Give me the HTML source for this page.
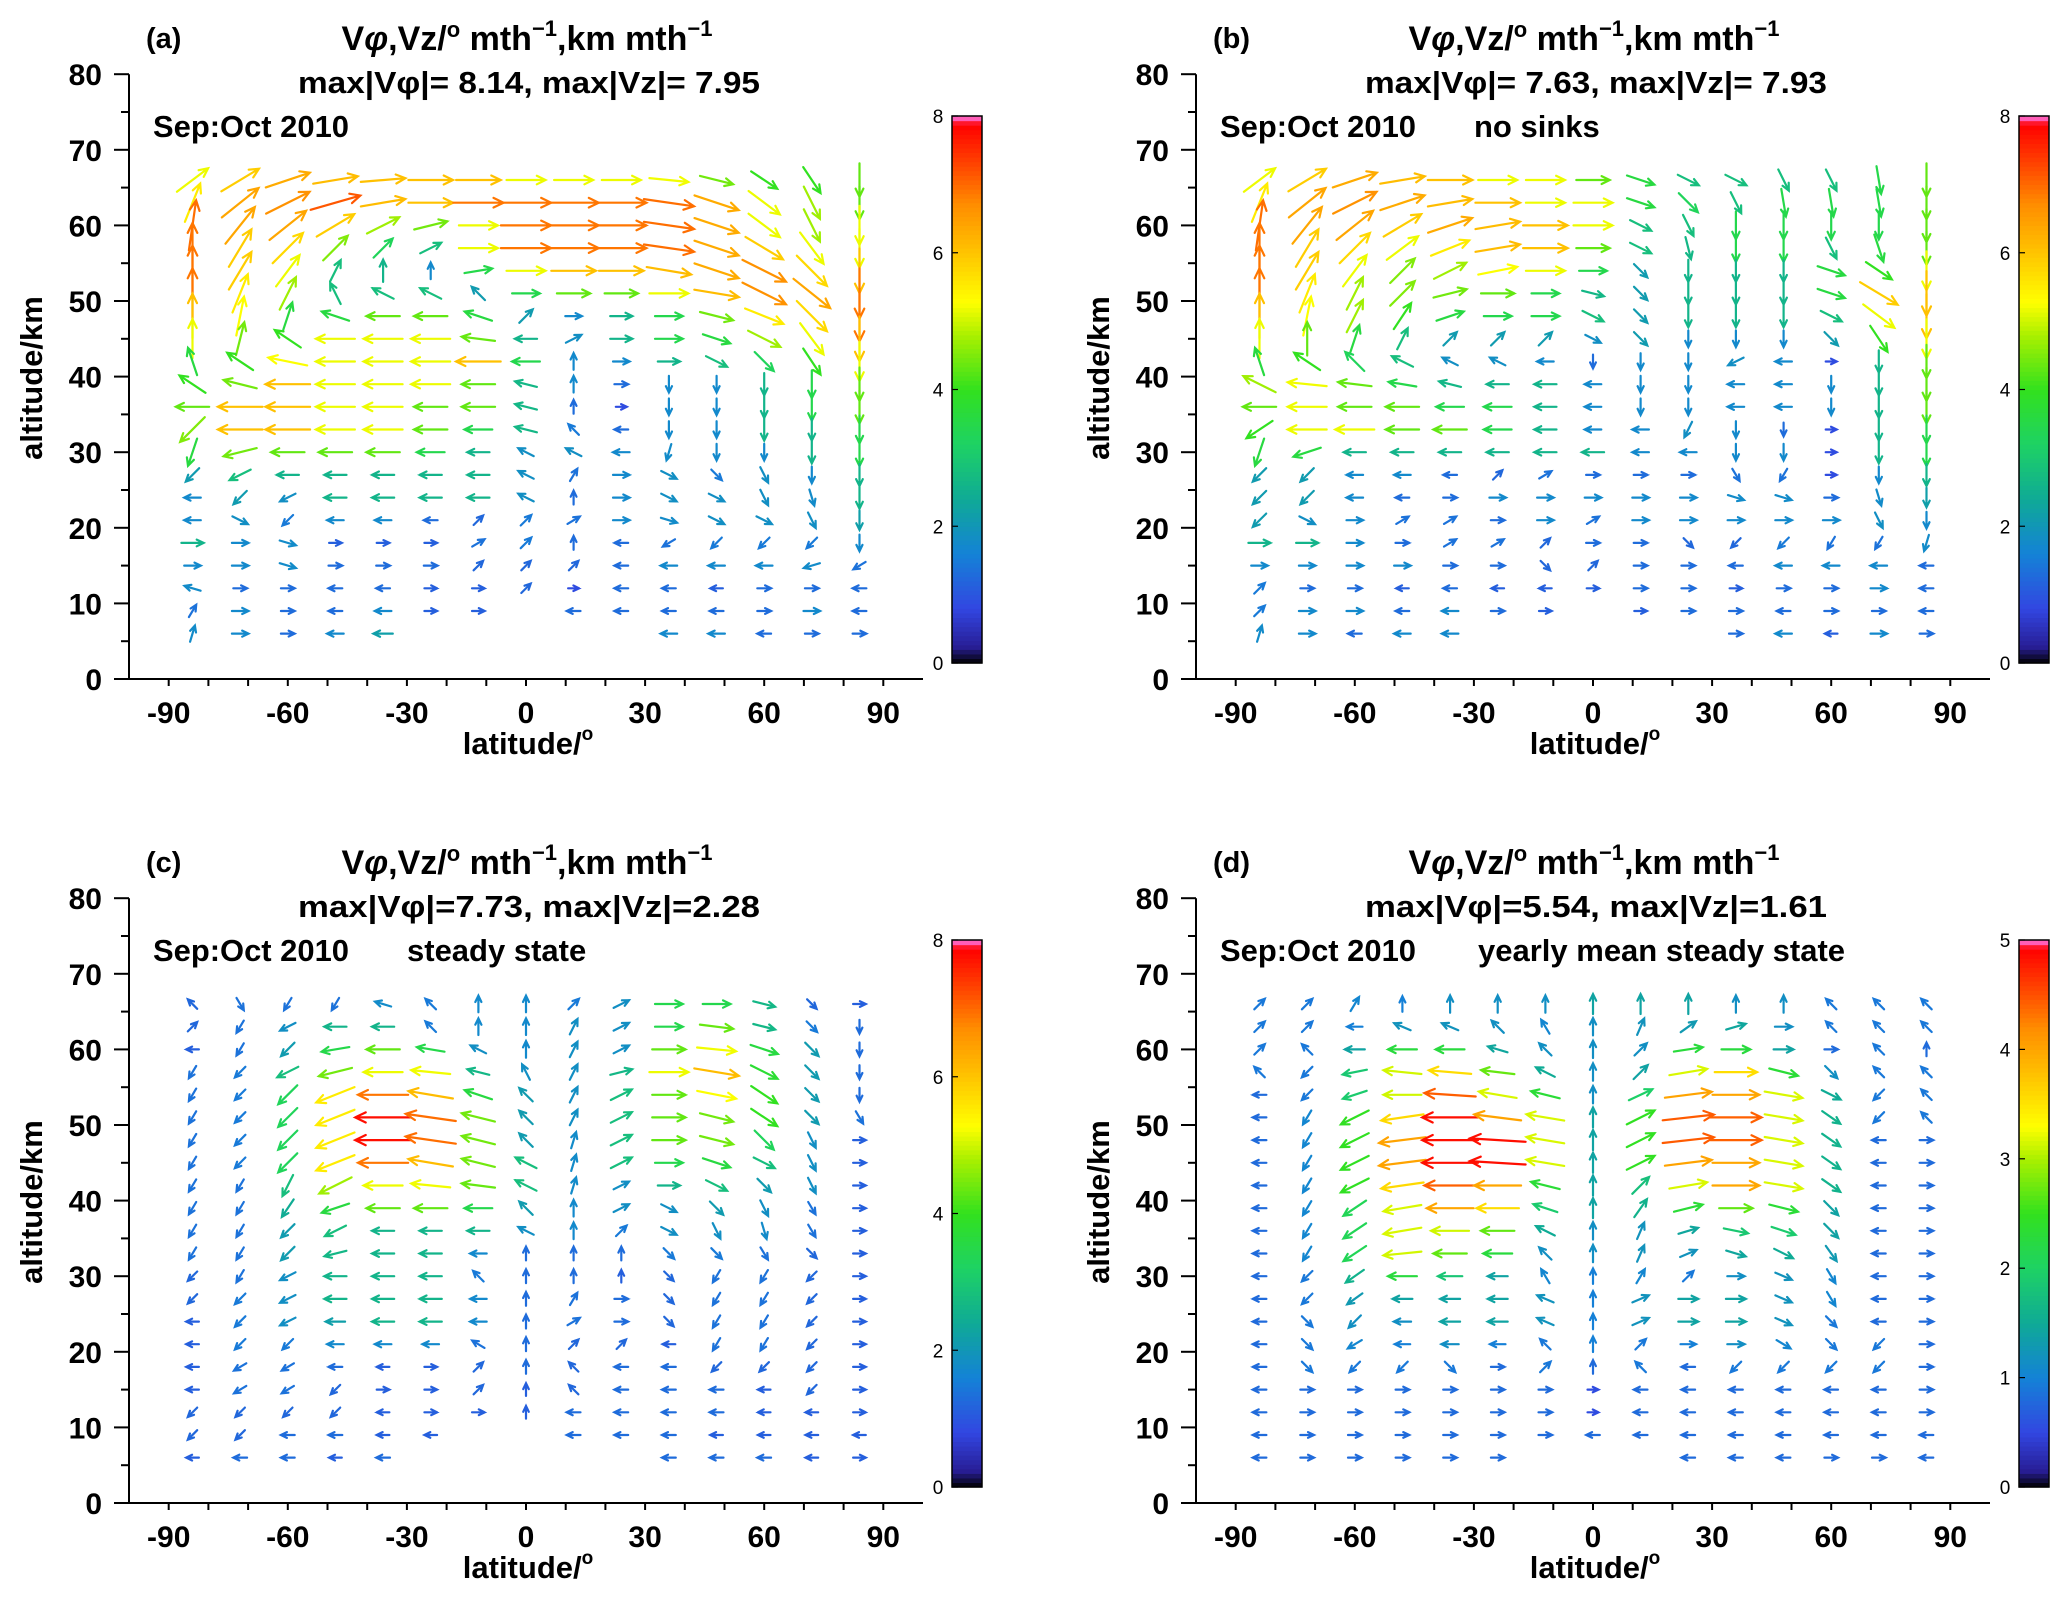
<!DOCTYPE html>
<html><head><meta charset="utf-8"><style>
html,body{margin:0;padding:0;background:#fff;}
svg{display:block;font-family:"Liberation Sans",sans-serif;}
</style></head><body>
<svg id="fig" width="2067" height="1601" viewBox="0 0 2067 1601"></svg>
<script>
// ---- data ----
const latCols = [-84,-72,-60,-48,-36,-24,-12,0,12,24,36,48,60,72,84];
const altRows = [66,63,60,57,54,51,48,45,42,39,36,33,30,27,24,21,18,15,12,9,6];
const yTicks = [0,10,20,30,40,50,60,70,80];
const xTicks = [-90,-60,-30,0,30,60,90];
const panelLabels = ["(a)","(b)","(c)","(d)"];
const maxLines = ["max|V\u03c6|= 8.14, max|Vz|= 7.95","max|V\u03c6|= 7.63, max|Vz|= 7.93","max|V\u03c6|=7.73, max|Vz|=2.28","max|V\u03c6|=5.54, max|Vz|=1.61"];
const subTitles = ["","no sinks","steady state","yearly mean steady state"];
const cbarMax = [8,8,8,5];
const N=null;
const aU=[[4,5,6,6,6,6,6,5,5,5,5,4,3,2,0],[2,5,6,7,6,6,7,7,7,7,7,6,4,2,0],[1,4,5,5,4,4,5,7,7,7,7,6,4,2,0],[0,3,4,3,2,2,5,7,7,7,7,6,5,3,0],[0,3,3,1,0,0,3,5,6,6,6,6,6,4,0],[0,2,2,-1,-2,-2,-1,3,4,4,5,6,6,5,0],[0,1,1,-3,-4,-4,-3,1,1,2,3,4,5,4,0],[0,1,-3,-5,-5,-5,-4,-2,1,2,3,3,4,3,0],[-1,-3,-5,-5,-5,-5,-6,-3,0,1,2,2,2,2,0],[-3,-4,-6,-5,-5,-5,-4,-2,0,0.5,0,0,0,0,0],[-4,-6,-6,-5,-5,-4,-4,-2,0,0,0,0,0,0,0],[-3,-6,-6,-5,-5,-4,-3,-2,-0.5,-0.5,0,0,0,0,0],[-1,-4,-4,-4,-4,-3,-2,-1,-1,-1,-0.3,0,0,0,0],[-1,-2,-2,-2,-2,-2,-2,-1,0.3,1,1,0.5,0.5,0,0],[-1,-1,-1,-2,-2,-2,-2,-1,0,1,1,1,0.5,0.3,0],[-1,1,-0.5,-1,-1,-0.5,0.3,0.5,0.5,1,1,1,1,0.5,0],[2,1,1,0.3,0.3,0.3,0.5,0.5,0,-0.5,-0.5,-0.5,-0.5,-0.5,0],[1,1,1,0.5,0.5,0.5,0.3,0.3,0.3,-0.5,-1,-1,-1,-1,-0.5],[-1,0.5,0.5,-0.5,-0.5,0.3,0.3,0.3,0,-0.5,-0.5,-0.3,0.5,0.5,-0.5],[0.3,1,0.5,-0.5,-1,0.3,0.3,N,-0.5,-0.5,-0.5,-0.5,0.5,1,-0.5],[0.3,1,0.5,-1,-1.5,N,N,N,N,N,-1,-1,-0.5,0.5,0.5]];
const aW=[[3,3,2,1,0.5,0,0,0,0,0,-0.5,-1,-2,-3,-4],[5,4,3,2,1,0,0,0,0,0,-1,-2,-3,-4,-4],[7,5,4,3,2,1,0,0,0,0,-1,-2,-3,-4,-5],[7,5,4,3,2,1,0,0,0,0,-1,-2,-3,-4,-5],[7,5,4,2,2,1,0.5,0,0,0,-1,-2,-3,-4,-6],[7,5,4,2,1,1,1,0,0,0,0,-1,-3,-4,-7],[6,5,3,1,0,0,1,1,0,0,0,-1,-2,-4,-7],[5,4,2,0,0,0,0.5,0,0.5,0,0,-1,-2,-4,-6],[3,2,1,0,0,0,0,0,1,0,0,-1,-2,-3,-5],[2,1,0,0,0,0,0,0.5,1,0,-1,-1,-2,-3,-4],[0,0,0,0,0,0,0,0.5,0.5,0,-1,-1,-2,-3,-4],[-3,0,0,0,0,0,0,0.5,0.5,0,-1,-1,-2,-2,-3],[-3,-1,0,0,0,0,0,0.5,0.5,0,-1,-1,-1,-2,-3],[-1,-1,0,0,0,0,0,0.5,0.5,0,-0.5,-0.5,-1,-1,-2],[0,-1,-0.5,0,0,0,0,0.5,0.5,0,-0.5,-0.5,-1,-1,-2],[0,-0.5,-0.5,0,0,0,0.3,0.5,0.3,0,-0.3,-0.5,-0.5,-1,-1.5],[0,0,-0.3,0,0,0,0.3,0.5,0.5,0,-0.3,-0.5,-0.5,-0.5,-1],[0,0,-0.3,0,0,0,0.3,0.3,0.3,0,0,0,0,-0.3,-0.3],[0.3,0,0,0,0,0,0,0.3,0,0,0,0,0,0,0],[0.5,0,0,0,0,0,0,0,0,0,0,0,0,0,0],[1,0,0,0,0,0,0,0,0,0,0,0,0,0,0]];
const bU=[[4,5,6,6,6,5,5,4,3,2,2,1,1,0.5,0],[2,5,6,6,6,6,5,5,3,2,1,0.5,0.5,0.5,0],[1,4,5,5,6,6,6,5,2,1,0,0,0,0,0],[0,3,4,4,5,6,6,4,2,0.5,0,0,1,1,0],[0,3,3,3,4,5,5,3,1,0,0,0,3,3,0],[0,2,2,3,4,4,3,2,1,0,0,0,3,5,0],[0,1,2,2,3,3,3,2,1,0,0,0,2,4,0],[0,0,1,1,1,1,1,1,1,0,0,0,1,2,0],[-1,-3,-2,-2,-1,-1,-1,0,0,0,-1,-1,0,0,0],[-4,-5,-4,-3,-2,-2,-2,-1,0,0,-1,-1,0,0,0],[-4,-5,-4,-4,-3,-3,-2,-1,0,0,-1,-1,0,0,0],[-3,-5,-5,-4,-4,-3,-2,-1,-1,-0.5,0,0,0,0,0],[-1,-3,-2,-2,-2,-2,-2,-2,-1,-1,0,0,0,0,0],[-1,-1,-1,-1,-0.5,0.3,0.5,0.5,0.5,0.5,0.3,-0.3,0,0,0],[-1,-1,-1,-0.5,0.5,1,1,1,1,1,1,1,0.5,0.3,0],[-1,1,1,0.5,0.5,0.5,1,0.5,1,1,1,1,1,0.5,0],[2,2,1,0.5,0.5,0.5,0.3,0.5,0.5,0.3,-0.3,-0.5,-0.3,-0.3,-0.3],[1,1,1,1,0.5,0.5,0.3,0.3,0.5,0.5,-0.5,-1,-1,-1,-0.5],[0.5,0.5,0.5,-0.3,-0.5,-0.3,-0.3,0.3,0.5,0.5,0.3,0.5,0.5,1,-0.5],[0.5,1,1,-0.5,-1,0.5,0.3,N,0.3,0.5,0.5,-0.5,0.5,0.5,-0.5],[0.3,1,-0.5,-1,-1,N,N,N,N,N,0.5,-1,-0.3,1,0.5]];
const bW=[[3,3,2,1,0,0,0,0,-1,-1,-1,-2,-2,-3,-4],[5,4,3,2,1,0,0,0,-1,-2,-2,-3,-3,-3,-4],[7,5,4,3,2,1,0,0,-1,-2,-3,-3,-3,-3,-4],[7,5,4,3,2,1,0,0,-1,-2,-3,-3,-2,-3,-4],[7,5,4,3,2,1,0,0,-1,-2,-2,-2,-1,-2,-5],[7,5,4,3,1,0,0,-0.5,-1,-2,-2,-2,-1,-3,-6],[6,5,4,3,1,0,0,-1,-1,-2,-2,-2,-1,-3,-6],[5,4,3,2,1,1,1,-0.5,-1,-1,-1,-1,-1,-3,-5],[3,2,2,1,0.5,0.5,0,-0.5,-1,-1,-0.5,0,0,-2,-4],[2,0.5,0.5,0.5,0.5,0,0,0,-1,-1,0,0,-1,-2,-4],[0,0,0,0,0,0,0,0,-1,-1,0,0,-1,-2,-4],[-2,0,0,0,0,0,0,0,0,-1,-1,-0.5,0,-2,-3],[-3,-1,0,0,0,0,0,0,0,0,-1,-1,0,-2,-3],[-1,-1,0,0,0,0.3,0.3,0,0,0,-0.5,-0.5,0,-1,-2],[-1,-1,0,0,0,0,0,0,0,0,-0.3,-0.3,0,-1,-1.5],[-1,-0.5,0,0.3,0.3,0,0,0.3,0,0,0,0,0,-1,-1],[0,0,0,0,0.3,0.3,0.3,0,0,-0.3,-0.3,-0.5,-0.5,-0.5,-1],[0,0,0,0,0,0,-0.3,0.3,0,0,0,0,0,0,0],[0.5,0,0,0,0,0,0,0,0,0,0,0,0,0,0],[0.5,0,0,0,0,0,0,0,0,0,0,0,0,0,0],[1,0,0,0,0,0,0,0,0,0,0,0,0,0,0]];
const cU=[[-0.3,0.3,-0.3,-0.3,-1,-0.5,0,0,0.5,1,3,3,2,0.3,0.3],[0.3,-0.3,-1,-2,-2,-0.5,0,0,0.5,1,3,4,2,0.5,0],[-0.3,-0.3,-1,-3,-4,-3,-1,0,0.5,1,4,5,3,1,0],[-0.3,-0.5,-2,-4,-5,-5,-2,-0.5,0.5,2,5,6,3,1,0],[-0.3,-0.5,-2,-5,-7,-6,-3,-1,0.5,2,4,5,3,1,0],[-0.3,-0.5,-2,-5,-8,-7,-4,-1,0.5,2,4,4,3,1,0.3],[-0.3,-0.5,-2,-5,-8,-7,-4,-1,0.3,2,4,4,2,0.5,0.3],[-0.3,-0.5,-2,-5,-7,-6,-4,-2,0.3,2,3,3,2,0.5,0.3],[-0.3,-0.3,-1,-4,-5,-5,-4,-2,0.3,1,2,2,1,0.5,0.3],[-0.3,-0.3,-1,-3,-4,-4,-3,-1,0,1,1,1,0.5,0.3,0.3],[-0.3,-0.3,-1,-2,-2,-2,-2,-1,0,0.5,1,0.5,0.3,0.3,0.3],[-0.3,-0.3,-1,-2,-2,-2,-1,0,0,0,0.5,0.5,0.3,0.3,0.3],[-0.3,-0.3,-1,-2,-2,-2,-0.5,0,0,0,0.3,-0.3,-0.3,-0.3,0.3],[-0.3,-0.5,-1,-2,-2,-2,-1,0,0.3,0.5,0.3,-0.3,-0.3,-0.3,0.3],[-0.3,-0.5,-1,-1.5,-2,-2,-1,0,0.5,0.5,0.3,-0.3,-0.3,-0.3,0.3],[-0.3,-0.5,-0.5,-1,-1,-1,-0.5,0,0.3,0.3,-0.3,-0.3,-0.3,-0.3,0.3],[-0.3,-0.5,-0.5,-0.5,-0.3,0.3,0.3,0,-0.3,-0.5,-0.5,-0.3,-0.3,-0.3,0.3],[-0.3,-0.5,-0.5,-0.3,0.3,0.3,0.3,0,-0.3,-0.5,-0.5,-0.5,-0.3,-0.3,0.3],[-0.3,-0.3,-0.3,-0.3,-0.3,0.3,0.3,0,-0.5,-0.5,-0.5,-0.5,-0.3,-0.3,0.3],[-0.3,-0.3,-0.5,-0.5,-0.3,-0.3,N,N,-0.5,-0.5,-0.5,-0.3,-0.3,-0.3,-0.3],[-0.3,-0.5,-0.5,-0.3,-0.5,N,N,N,N,N,-0.5,-0.5,-0.5,-0.3,0.3]];
const cW=[[0.3,-0.5,-0.5,-0.5,0.3,0.5,1,1,0.5,0.5,0,0,-0.5,-0.3,0],[0.3,-0.5,-0.5,0,0,0.5,1,1,1,0.5,0,-0.5,-0.5,-0.5,-0.5],[0,-0.5,-1,-0.5,0,0.5,0.5,1,1,0.5,0,-0.5,-1,-1,-0.5],[-0.5,-0.5,-1,-1,0,0.5,0.5,1,1,0.5,0,-1,-1.5,-1,-0.5],[-0.5,-0.5,-2,-2,0,1,1,1,1,1,0,-1,-2,-1,-0.5],[-0.5,-0.5,-2,-2,0,1,1,1,1,1,0,-1,-2,-1,-0.5],[-0.5,-0.5,-2,-2,0,1,1,1,1,1,0,-1,-2,-1,0],[-0.5,-0.5,-2,-2,0,1,1,1,1,1,0,-1,-1,-1,0],[-0.5,-0.5,-2,-2,0,0.5,0.5,1,1,0.5,0,-1,-1,-1,0],[-0.5,-0.5,-1.5,-1,0,0,0,1,1,0.5,-0.5,-1,-1,-0.5,0],[-0.5,-0.5,-1,-1,0,0,0,0.5,1,0.5,-0.5,-1,-1,-0.5,0],[-0.5,-0.5,-1,-0.5,0,0,0,0.5,0.5,0.5,-0.5,-0.5,-0.5,-0.3,0],[-0.3,-0.5,-0.5,0,0,0,0.5,0.5,0.5,0.3,-0.3,-0.5,-0.5,-0.3,0],[-0.3,-0.5,-0.5,0,0,0,0,0.5,0.5,0,-0.3,-0.5,-0.5,-0.3,0],[0,-0.5,-0.5,0,0,0,0,0.5,0.3,0,-0.3,-0.5,-0.5,-0.3,0],[0,-0.5,-0.5,0,0,0,0.3,0.5,0.3,0.3,0,-0.5,-0.5,-0.3,0],[0,-0.3,-0.3,0,0,0,0.3,0.5,0.3,0,0,-0.3,-0.3,-0.3,0],[0,-0.3,-0.3,-0.3,0,0,0.3,0.3,0.3,0,0,0,0,-0.3,0],[-0.3,-0.3,-0.3,-0.3,0,0,0,0.3,0,0,0,0,0,0,0],[-0.3,-0.3,0,0,0,0,0,0,0,0,0,0,0,0,0],[0,0,0,0,0,0,0,0,0,0,0,0,0,0,0]];
const dU=[[0.3,0.3,0.3,0,0,0,0,0,0,0,0,0,-0.3,-0.3,-0.3],[0.3,0.3,-0.5,-0.7,-0.7,-0.5,-0.3,0,0.3,0.7,1,0.7,-0.3,-0.3,-0.3],[0.3,-0.3,-1,-2,-2,-1,-0.5,0,0.5,2,2,1,0.3,-0.3,0],[-0.3,-0.3,-1.5,-3,-3.5,-2.5,-1,0,0.7,3,3.5,2,0.5,-0.3,-0.3],[-0.3,-0.3,-1.5,-3,-4.5,-3,-2,0,1.5,4,4,3,1,-0.3,-0.3],[-0.3,-0.3,-2,-3.5,-5,-4,-3,0,2,4.5,4.5,3,1,-0.3,-0.3],[-0.3,-0.3,-2,-4,-5,-5,-3,0,2,4.5,4.5,3,1,-0.3,0.3],[-0.3,-0.3,-2,-4,-5,-5,-3,0,2,4,4,3,1,-0.3,0.3],[-0.3,-0.3,-2,-3.5,-4.5,-4,-2,0,1,3,4,3,1,-0.3,0.3],[-0.3,-0.3,-1.5,-3,-4,-3.5,-1.5,0,0.7,2,2.5,2,0.7,-0.3,0.3],[-0.3,-0.3,-1.5,-3,-3,-2.5,-1,0,0.3,1,1.5,1.5,0.7,-0.3,0.3],[-0.3,-0.3,-1.5,-3,-2.5,-2,-0.5,0,0.3,0.7,1,1,0.5,-0.3,0.3],[-0.3,-0.3,-1,-2,-1.5,-1,-0.3,0,0.3,0.3,0.7,0.7,0.3,-0.3,0.3],[-0.3,-0.3,-0.7,-1,-1,-1,-0.7,0,0.7,1,1,0.7,0.3,-0.3,0.3],[-0.3,0.3,-0.5,-0.7,-1,-1,-0.7,0,0.7,1,1,0.7,0.3,-0.3,0.3],[-0.3,0.3,-0.5,-0.5,-0.7,-0.5,-0.3,0,0.3,0.5,0.7,0.5,0.3,-0.3,0.3],[-0.3,0.3,-0.3,-0.3,0.3,0.3,0.3,0,-0.3,-0.3,-0.3,-0.3,-0.3,-0.3,0.3],[-0.3,0.3,0.3,0.3,0.3,0.3,0.3,0,-0.3,-0.3,-0.3,-0.3,-0.3,-0.3,0.3],[-0.3,0.3,0.3,0.3,0.3,0.3,0.3,0,-0.3,-0.3,-0.3,-0.3,-0.3,-0.3,0.3],[-0.3,0.3,0.3,0.3,0.3,0.3,0.3,-0.3,-0.3,-0.3,-0.3,-0.3,-0.3,-0.3,-0.3],[-0.3,0.3,0.3,0.3,0.3,0.3,N,N,N,-0.3,-0.3,-0.3,0.3,0.3,-0.3]];
const dW=[[0.3,0.3,0.5,0.5,0.7,0.7,0.7,1,1,1,0.7,0.7,0.3,0.3,0.3],[0.3,0.3,0,0.3,0.3,0.5,0.5,0.7,0.7,0.5,0.3,0,0.3,0.3,0.3],[0.3,0.3,0,0,0,0.3,0.5,0.7,0.5,0.3,0,0,0,0.3,0.3],[0.3,-0.3,-0.3,0.3,0.3,0.3,0.5,0.7,0.7,0.5,0,-0.5,-0.5,0.3,0.3],[0,-0.3,-0.5,0,0.3,0.5,0.5,0.7,0.7,0.5,0,-0.5,-0.5,-0.3,0.3],[0,-0.5,-1,-0.5,0,0.5,0.5,1,1,0.5,0,-0.5,-0.7,-0.3,0.3],[0,-0.5,-1,-0.5,0,0.3,0.5,1,1,0.5,0,-0.5,-0.7,0,0],[0,-0.5,-1,-0.5,0,0.3,0.5,1,1,0.5,0,-0.5,-0.7,0,0],[0,-0.5,-1,-0.5,0,0,0.5,1,1,0.5,0,-0.5,-0.7,0,0],[0,-0.5,-1,-0.5,0,0,0.5,1,1,0.5,0,-0.5,-0.7,0,0],[0,-0.5,-1,-0.5,0,0,0.5,0.7,0.7,0.3,-0.3,-0.5,-0.7,0,0],[0,-0.5,-1,-0.3,0,0,0.5,0.7,0.7,0.3,-0.3,-0.5,-0.7,0,0],[0,-0.3,-0.7,0,0,0,0.5,0.5,0.5,0.3,0,-0.3,-0.5,0,0],[0,-0.3,-0.5,0,0,0,0.3,0.5,0.3,0,0,-0.3,-0.5,0,0],[0,-0.3,-0.5,0,0,0,0.3,0.5,0.3,0,0,-0.3,-0.3,0,0],[0,-0.3,-0.3,0,0,0,0.3,0.5,0.3,0,0,-0.3,-0.3,-0.3,0],[0,-0.3,-0.3,-0.3,-0.3,0,0.3,0.3,0.3,0,-0.3,-0.3,-0.3,-0.3,0],[0,0,0,0,0,0,0,0,0,0,0,0,0,0,0],[0,0,0,0,0,0,0,0,0,0,0,0,0,0,0],[0,0,0,0,0,0,0,0,0,0,0,0,0,0,0],[0,0,0,0,0,0,0,0,0,0,0,0,0,0,0]];
const panelU=[aU,bU,cU,dU];
const panelW=[aW,bW,cW,dW];

// ---- rendering ----
const NS="http://www.w3.org/2000/svg";
const svg=document.getElementById('fig');
function mk(tag,attrs,parent){const e=document.createElementNS(NS,tag);for(const k in attrs)e.setAttribute(k,attrs[k]);(parent||svg).appendChild(e);return e;}
const stops=[[0,[0,0,0]],[0.03,[40,30,150]],[0.1,[50,70,225]],[0.2,[20,130,215]],[0.3,[15,170,150]],[0.4,[30,210,100]],[0.5,[50,225,30]],[0.6,[170,240,0]],[0.66,[255,255,0]],[0.76,[255,190,0]],[0.84,[255,140,0]],[0.91,[255,70,0]],[0.985,[255,0,0]],[1,[255,130,255]]];
function cmap(f){f=Math.max(0,Math.min(1,f));for(let i=1;i<stops.length;i++){if(f<=stops[i][0]){const a=stops[i-1],b=stops[i];const t=(f-a[0])/(b[0]-a[0]);const c=a[1].map((v,j)=>Math.round(v+(b[1][j]-v)*t));return `rgb(${c[0]},${c[1]},${c[2]})`;}}return 'rgb(255,130,255)';}

const ox=[0,1067,0,1067], oy=[0,0,824,824];
const X0=129, Y0=679, PX_DEG=3.97, PX_KM=7.56;
const B='font-weight:bold';
for(let p=0;p<4;p++){
  const g=mk('g',{transform:`translate(${ox[p]},${oy[p]})`});
  
  
  const xs=lat=>X0+(lat+100)*PX_DEG;
  const ys=alt=>Y0-alt*PX_KM;
  const ax=mk('g',{stroke:'#000','stroke-width':2,fill:'none'},g);
  
  
  mk('line',{x1:X0,y1:ys(80),x2:X0,y2:Y0},ax);
  mk('line',{x1:X0-15,y1:Y0,x2:xs(100),y2:Y0},ax);
  for(let v=0;v<=80;v+=5){const big=v%10===0;mk('line',{x1:X0-(big?15:8),y1:ys(v),x2:X0,y2:ys(v)},ax);}
  for(let v=-90;v<=90;v+=10){mk('line',{x1:xs(v),y1:Y0,x2:xs(v),y2:Y0+7},ax);}
  yTicks.forEach(v=>{const t=mk('text',{x:X0-27,y:ys(v)+11,'text-anchor':'end','font-size':30,style:B},g);t.textContent=v;
    
    });
  xTicks.forEach(v=>{const t=mk('text',{x:xs(v),y:Y0+44,'text-anchor':'middle','font-size':30,style:B},g);t.textContent=v;
    
    });
  const xl=mk('text',{x:528,y:Y0+75,'text-anchor':'middle','font-size':31,style:B},g);
  xl.innerHTML='latitude/<tspan dy="-14" font-size="19">o</tspan>';
  
  
  const yl=mk('text',{x:0,y:0,'text-anchor':'middle','font-size':31,style:B,transform:`translate(42,378) rotate(-90)`},g);
  yl.textContent='altitude/km';
  
  
  const pl=mk('text',{x:146,y:48,'font-size':29,style:B},g);pl.textContent=panelLabels[p];
  
  
  const t1=mk('text',{x:527,y:50,'text-anchor':'middle','font-size':34,style:B},g);
  t1.innerHTML='V<tspan font-style="italic">\u03c6</tspan>,Vz/<tspan dy="-13" font-size="22">o</tspan><tspan dy="13"> mth</tspan><tspan dy="-14" font-size="22">\u22121</tspan><tspan dy="14">,km mth</tspan><tspan dy="-14" font-size="22">\u22121</tspan>';
  
  
  const t2=mk('text',{x:529,y:93,'text-anchor':'middle','font-size':31,style:B,textLength:462,lengthAdjust:'spacingAndGlyphs'},g);
  t2.textContent=maxLines[p];
  
  
  const t3=mk('text',{x:153,y:137,'font-size':31,style:B,textLength:196,lengthAdjust:'spacingAndGlyphs'},g);
  t3.textContent='Sep:Oct 2010';
  
  
  if(subTitles[p]){const t4=mk('text',{x:[0,407,407,411][p],y:137,'font-size':31,style:B},g);t4.textContent=subTitles[p];
    
    }
  const cb=mk('g',{},g);
  
  
  const cx=952, cw=30, cy0=116, cy1=663, nseg=120;
  for(let i=0;i<nseg;i++){const f=(i+0.5)/nseg;mk('rect',{x:cx,y:cy1-(i+1)*(cy1-cy0)/nseg,width:cw,height:(cy1-cy0)/nseg+0.6,fill:cmap(f)},cb);}
  mk('rect',{x:cx,y:cy0,width:cw,height:cy1-cy0,fill:'none',stroke:'#000','stroke-width':1.5},cb);
  const cm=cbarMax[p];
  const step=cm===8?2:1;
  for(let v=0;v<=cm;v+=step){const yy=cy1-v/cm*(cy1-cy0);const t=mk('text',{x:cx-14,y:yy+7,'text-anchor':'middle','font-size':19},cb);t.textContent=v;
    
    
    mk('line',{x1:cx,y1:yy,x2:cx+6,y2:yy,stroke:'#000','stroke-width':1.2},cb);}
  const vg=mk('g',{fill:'none','stroke-width':2.2,'stroke-linecap':'round'},g);
  
  
  const U=panelU[p], W=panelW[p];
  altRows.forEach((alt,r)=>{latCols.forEach((lat,c)=>{
    const u=U[r][c], w=W[r][c];
    if(u===null||w===null)return;
    const m=Math.hypot(u,w);
    const ang=(m===0)?0:Math.atan2(-w,u);
    const mn=m*8/cm;
    const L=11+mn*5.6;
    const cxp=xs(lat), cyp=ys(alt);
    const dx=Math.cos(ang)*L/2, dy=Math.sin(ang)*L/2;
    const x1=cxp-dx,y1=cyp-dy,x2=cxp+dx,y2=cyp+dy;
    const h=Math.min(12,5+L*0.12), a=0.45;
    const col=cmap(Math.min(0.97,0.11+0.86*m/cm));
    const path=`M${x1.toFixed(1)},${y1.toFixed(1)}L${x2.toFixed(1)},${y2.toFixed(1)}M${(x2-h*Math.cos(ang-a)).toFixed(1)},${(y2-h*Math.sin(ang-a)).toFixed(1)}L${x2.toFixed(1)},${y2.toFixed(1)}L${(x2-h*Math.cos(ang+a)).toFixed(1)},${(y2-h*Math.sin(ang+a)).toFixed(1)}`;
    const e=mk('path',{d:path,stroke:col},vg);
    
    
  });});
}
</script>
</body></html>
